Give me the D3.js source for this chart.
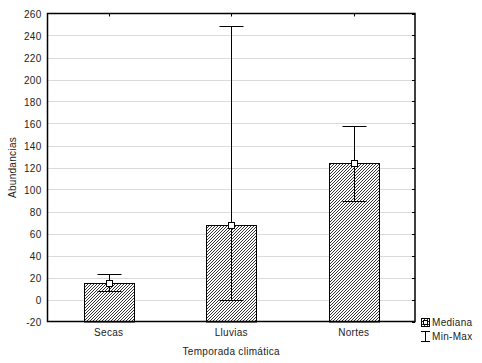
<!DOCTYPE html>
<html>
<head>
<meta charset="utf-8">
<script src="https://cdn.jsdelivr.net/npm/d3@7"></script>
<style>
  body { margin: 0; background: #fff; }
  text { font-family: "Liberation Sans", Arial, sans-serif; font-size: 10px; fill: #222; letter-spacing: 0.3px; }
</style>
</head>
<body>
<div id="chart"></div>
<script>
// data
const seasons = ["Secas", "Lluvias", "Nortes"];
const medians = [15, 68, 124];
const mins = [8, 0, 90];
const maxs = [23, 249, 158];
const yTicks = d3.range(-20, 261, 20);

const width = 482, height = 363;
const margin = {top: 13.5, right: 67, bottom: 41.5, left: 47.5};

let svg = d3.select("#chart").append("svg")
    .attr("width", width)
    .attr("height", height);

let defs = svg.append("defs");
let pat = defs.append("pattern")
    .attr("id", "hatch")
    .attr("patternUnits", "userSpaceOnUse")
    .attr("width", 3).attr("height", 3);
pat.append("rect").attr("width", 3).attr("height", 3).attr("fill", "#fff");
pat.append("path")
    .attr("d", "M-1,1 l2,-2 M0,3 l3,-3 M2,4 l2,-2")
    .attr("stroke", "#000").attr("stroke-width", 0.8)
    .attr("shape-rendering", "crispEdges");

let xScale = d3.scaleBand()
    .domain(seasons)
    .range([margin.left, width - margin.right]);

let yScale = d3.scaleLinear()
    .domain([-20, 260])
    .range([height - margin.bottom, margin.top]);

let x0 = margin.left, x1 = width - margin.right;
let y0 = height - margin.bottom, y1 = margin.top;

// grid
svg.append("g").selectAll("line.grid").data(yTicks.filter(d => d > -20 && d < 260))
    .enter().append("line")
    .attr("class", "grid")
    .attr("x1", x0).attr("x2", x1)
    .attr("y1", d => Math.round(yScale(d)) + 0.5).attr("y2", d => Math.round(yScale(d)) + 0.5)
    .attr("stroke", "#b4b4b4")
    .attr("stroke-width", 1)
    .attr("stroke-dasharray", "1,1");

// bars
let bw = 50;
let bars = svg.append("g");
bars.selectAll("rect").data(seasons)
    .enter().append("rect")
    .attr("x", d => Math.round(xScale(d) + xScale.bandwidth() / 2 - bw / 2) + 0.5)
    .attr("width", bw)
    .attr("y", (d, i) => Math.round(yScale(medians[i])) + 0.5)
    .attr("height", (d, i) => yScale(-20) - Math.round(yScale(medians[i])))
    .attr("fill", "url(#hatch)")
    .attr("stroke", "#000")
    .attr("stroke-width", 1);

// whiskers
let cap = 24;
let wk = svg.append("g").attr("stroke", "#000").attr("stroke-width", 1);
seasons.forEach((s, i) => {
    let cx = Math.round(xScale(s) + xScale.bandwidth() / 2) + 0.5;
    let yMax = Math.round(yScale(maxs[i])) + 0.5;
    let yMin = Math.round(yScale(mins[i])) + 0.5;
    wk.append("line").attr("x1", cx).attr("x2", cx).attr("y1", yMin).attr("y2", yMax);
    wk.append("line").attr("x1", cx - cap / 2).attr("x2", cx + cap / 2).attr("y1", yMax).attr("y2", yMax);
    wk.append("line").attr("x1", cx - cap / 2).attr("x2", cx + cap / 2).attr("y1", yMin).attr("y2", yMin);
    svg.append("rect")
        .attr("x", cx - 3).attr("y", Math.round(yScale(medians[i])) - 2.5)
        .attr("width", 6).attr("height", 6)
        .attr("shape-rendering", "crispEdges")
        .attr("fill", "#fff").attr("stroke", "#000").attr("stroke-width", 1);
});

// frame
svg.append("rect")
    .attr("x", x0).attr("y", y1)
    .attr("width", x1 - x0).attr("height", y0 - y1)
    .attr("fill", "none").attr("stroke", "#000").attr("stroke-width", 1.5);

// left axis labels
let axisy = d3.axisLeft(yScale).tickValues(yTicks).tickSize(0).tickPadding(6)
    .tickFormat(d => String(d));
let ga = svg.append("g").attr("transform", "translate(" + x0 + ",0)").call(axisy);
ga.select(".domain").remove();
ga.selectAll("text").style("font-size", "10px").attr("fill", "#222").attr("dy", "0.35em");

// right ticks inward
svg.append("g").selectAll("line").data(yTicks)
    .enter().append("line")
    .attr("x1", x1 - 3).attr("x2", x1)
    .attr("y1", d => Math.round(yScale(d)) + 0.5).attr("y2", d => Math.round(yScale(d)) + 0.5)
    .attr("stroke", "#000");

// top ticks
svg.append("g").selectAll("line").data(seasons)
    .enter().append("line")
    .attr("x1", d => Math.round(xScale(d) + xScale.bandwidth() / 2) + 0.5)
    .attr("x2", d => Math.round(xScale(d) + xScale.bandwidth() / 2) + 0.5)
    .attr("y1", y1).attr("y2", y1 + 3)
    .attr("stroke", "#000");

// x labels
let axisx = d3.axisBottom(xScale).tickSize(0).tickPadding(7);
let gx = svg.append("g").attr("transform", "translate(0," + y0 + ")").call(axisx);
gx.select(".domain").remove();
gx.selectAll("text").style("font-size", "10px").attr("fill", "#222");

// titles
svg.append("text")
    .attr("x", (x0 + x1) / 2).attr("y", 355)
    .attr("text-anchor", "middle")
    .text("Temporada climática");

svg.append("text")
    .attr("transform", "translate(16," + ((y0 + y1) / 2) + ") rotate(-90)")
    .attr("text-anchor", "middle")
    .text("Abundancias");

// legend
let lg = svg.append("g").attr("shape-rendering", "crispEdges");
lg.append("rect").attr("x", 421.5).attr("y", 318.5).attr("width", 8).attr("height", 8)
    .attr("fill", "url(#hatch)").attr("stroke", "#000");
lg.append("rect").attr("x", 423.5).attr("y", 320.5).attr("width", 4).attr("height", 4)
    .attr("fill", "#fff").attr("stroke", "#000");
lg.append("text").attr("x", 432).attr("y", 326).text("Mediana");
lg.append("line").attr("x1", 425.5).attr("x2", 425.5).attr("y1", 331).attr("y2", 342).attr("stroke", "#000");
lg.append("line").attr("x1", 421).attr("x2", 430).attr("y1", 331.5).attr("y2", 331.5).attr("stroke", "#000");
lg.append("line").attr("x1", 421).attr("x2", 430).attr("y1", 341.5).attr("y2", 341.5).attr("stroke", "#000");
lg.append("text").attr("x", 432).attr("y", 340).text("Min-Max");
</script>
</body>
</html>
